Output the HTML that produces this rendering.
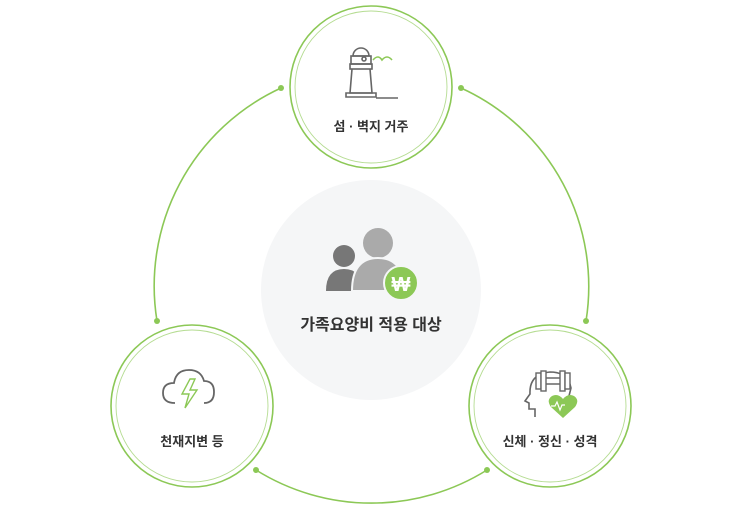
<!DOCTYPE html>
<html><head><meta charset="utf-8"><style>
body{margin:0;background:#fff;}
svg{display:block}
text{font-family:"Liberation Sans","Noto Sans CJK KR",sans-serif;font-weight:bold;fill:#333;font-size:13px;text-anchor:middle}
</style></head><body>
<svg width="741" height="510" viewBox="0 0 741 510">
<g fill="none" stroke="#8cc856" stroke-width="1.6">
<path d="M281 88 A218 218 0 0 0 157 321"/>
<path d="M461 88 A218 218 0 0 1 586 321"/>
<path d="M256 470 A218 218 0 0 0 487 470"/>
</g>
<g fill="#8cc856">
<circle cx="281" cy="88" r="3"/><circle cx="461" cy="88" r="3"/>
<circle cx="157" cy="321" r="3"/><circle cx="586" cy="321" r="3"/>
<circle cx="256" cy="470" r="3"/><circle cx="487" cy="470" r="3"/>
</g>
<circle cx="371" cy="290" r="110" fill="#f5f6f7"/>
<g fill="#fff" stroke="#8cc856">
<circle cx="371" cy="87" r="81" stroke-width="1.6"/>
<circle cx="192" cy="406" r="81" stroke-width="1.6"/>
<circle cx="550" cy="406" r="81" stroke-width="1.6"/>
</g>
<g fill="none" stroke="#b5dc92" stroke-width="0.9">
<circle cx="371" cy="87" r="76"/>
<circle cx="192" cy="406" r="76"/>
<circle cx="550" cy="406" r="76"/>
</g>
<!-- lighthouse -->
<g fill="none" stroke="#666" stroke-width="1.6">
<path d="M353 56 A8 8 0 0 1 369 56 Z"/>
<rect x="351" y="56" width="20" height="8"/>
<circle cx="364" cy="59" r="2"/>
<rect x="350" y="64" width="22" height="5"/>
<path d="M352 69 L350 93 L372 93 L370 69"/>
<path d="M346 93 h30 v4 h-30 z"/>
<path d="M376 98 h22"/>
</g>
<path d="M373 60 q5 -6 9 0 q5 -6 10 0" fill="none" stroke="#8cc856" stroke-width="1.6"/>
<text x="371" y="131">섬 · 벽지 거주</text>
<!-- people -->
<circle cx="344" cy="256" r="11" fill="#777"/>
<path d="M326 291 q0 -22 18 -22 q18 0 18 22 z" fill="#777"/>
<circle cx="378" cy="243" r="15" fill="#aaa"/>
<path d="M352 291 q0 -33 26 -33 q26 0 26 33 z" fill="#aaa" stroke="#f5f6f7" stroke-width="2"/>
<circle cx="401" cy="283" r="17" fill="#8cc856" stroke="#f5f6f7" stroke-width="2"/>
<text x="401" y="291" style="fill:#fff;font-size:20px">₩</text>
<text x="371" y="330" style="font-size:16px">가족요양비 적용 대상</text>
<!-- cloud -->
<path d="M175 403 q-12 0 -12 -10 q0 -10 11 -10 q2 -13 15 -13 q12 0 15 11 q10 0 10 11 q0 11 -10 11" fill="none" stroke="#666" stroke-width="1.8"/>
<path d="M190 379 l-8 15 h7 l-4 14 l12 -18 h-7 l5 -11 z" fill="#fff" stroke="#8cc856" stroke-width="1.4"/>
<text x="192" y="446">천재지변 등</text>
<!-- head -->
<path d="M535 417 v-8 h-6 v-6 l-4 -2 l5 -7 q-1 -20 20 -22 q18 0 21 16 l-2 8" fill="none" stroke="#666" stroke-width="1.6"/>
<g fill="#fff" stroke="#666" stroke-width="1.4">
<rect x="536" y="373" width="5" height="16"/><rect x="541" y="371" width="5" height="20"/>
<rect x="560" y="371" width="5" height="20"/><rect x="565" y="373" width="5" height="16"/>
<path d="M546 378 h14 M546 384 h14"/>
</g>
<path d="M563 418 l-12 -11 q-5 -7 1 -11 q6 -3 11 3 q5 -6 11 -3 q6 4 1 11 z" fill="#8cc856"/>
<path d="M551 406 h4 l2 -4 l3 8 l2 -5 h3" fill="none" stroke="#fff" stroke-width="1.2"/>
<text x="550" y="446">신체 · 정신 · 성격</text>
</svg>
</body></html>
